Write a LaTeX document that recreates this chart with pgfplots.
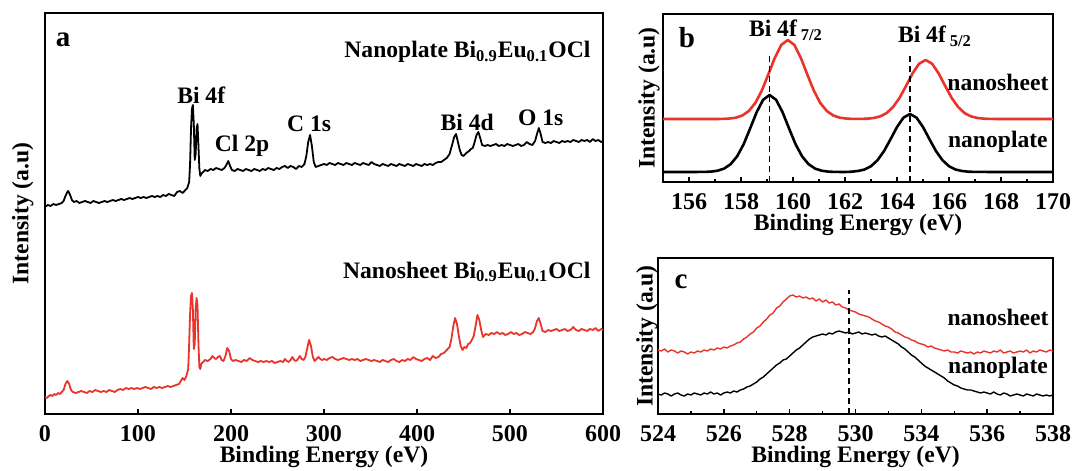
\documentclass[border=0pt]{standalone}
\usepackage{fontspec}
\setmainfont{Liberation Serif}
\usepackage{pgfplots}
\pgfplotsset{compat=1.18}
\definecolor{xpsred}{RGB}{232,52,42}
\newcommand{\lbl}{\fontsize{11.8}{13.5}\selectfont\bfseries}
\newcommand{\tck}{\fontsize{12}{14}\selectfont\bfseries}
\newcommand{\letter}{\fontsize{14.5}{16}\selectfont\bfseries}

\pgfplotsset{
  xps/.style={
    scale only axis, clip=false,
    axis line style={line width=0.9pt},
    ytick=\empty, ymin=0,
    tick align=inside, xtick pos=left,
    major tick length=2.6pt, minor tick length=1.5pt,
    every tick/.style={black, line width=0.7pt},
    tick label style={font=\tck},
    label style={font=\lbl},
    /pgf/number format/assume math mode=true,
    xticklabel style={anchor=base, yshift=-13.5pt},
    xlabel style={at={(axis description cs:0.5,0)}, anchor=base, yshift=-24pt},
    xlabel={Binding Energy (eV)},
    ylabel={Intensity (a.u)},
  },
}

\begin{document}
\begin{tikzpicture}
\useasboundingbox (0pt,0pt) rectangle (536pt,-235.5pt);

% ---------------- panel a: survey ----------------
\begin{axis}[xps,
  at={(22.5pt,-207pt)}, anchor=south west,
  width=279pt, height=200.5pt,
  xmin=0, xmax=600, ymax=401,
  xtick={0,100,...,600},
  ylabel style={at={(axis description cs:-0.040,0.5)}, anchor=center},
]
\addplot[black, line width=0.9pt, line join=round] table {
x y
0 207
3 209
6 208
9 210
12 209
15 210
18 211
20 213
22 218
24 222
25 223
27 219
29 214
31 212
34 213
37 211
40 212
43 213
46 212
49 211
52 213
55 212
58 211
61 212
64 213
67 212
70 213
73 214
76 213
79 214
82 215
85 214
88 215
91 216
94 215
97 216
100 217
103 216
106 217
109 216
112 217
115 218
118 217
121 218
124 217
127 219
130 218
133 220
136 219
139 218
142 222
145 223
148 221
151 224
153 226
155 232
156 250
157 285
158 305
159 309
160 290
161 254
162 260
163 285
164 290
165 268
166 245
167 238
168 240
170 242
172 244
175 243
178 245
181 244
184 246
187 245
190 244
193 246
195 249
197 253
199 248
201 244
204 243
207 245
210 244
213 243
216 245
219 244
222 243
225 245
228 244
231 243
234 245
237 244
240 246
243 245
246 244
249 246
252 245
255 247
258 248
261 246
264 248
267 247
270 245
273 248
276 247
279 250
281 258
283 272
285 279
287 268
289 252
291 247
294 248
297 249
300 250
303 249
306 251
309 250
312 249
315 251
318 250
321 249
324 251
327 250
330 249
333 251
336 250
339 249
342 251
345 250
348 249
351 252
354 250
357 249
360 248
363 250
366 249
369 248
372 250
375 249
378 248
381 250
384 249
387 248
390 250
393 249
396 248
399 250
402 249
405 248
408 250
411 249
414 250
417 249
420 251
423 252
426 252
429 254
432 256
435 260
438 270
440 277
442 280
444 272
446 264
448 259
450 258
453 261
456 263
458 265
460 266
462 272
464 279
466 282
468 276
470 269
473 268
476 269
479 268
482 269
485 270
488 268
491 269
494 268
497 270
500 269
503 268
506 269
509 270
512 268
515 269
518 272
521 270
524 269
527 273
529 280
531 286
533 280
535 272
538 271
541 272
544 271
547 273
550 272
553 271
556 273
559 272
562 273
565 272
568 274
571 273
574 272
577 274
580 273
583 274
586 272
589 275
592 273
595 274
598 272
600 273
};
\addplot[xpsred, line width=0.9pt, line join=round] table {
x y
0 17
2 16
4 18
6 19
8 18
10 20
12 19
14 21
16 20
18 22
20 24
22 30
24 33
26 30
28 24
30 22
33 21
36 22
39 23
42 22
45 21
48 23
51 22
54 24
57 23
60 22
63 23
66 22
69 24
72 23
75 22
78 24
81 25
84 24
87 26
90 25
93 26
96 25
99 26
102 25
105 26
108 27
111 26
114 25
117 27
120 26
123 27
126 26
129 27
132 28
135 27
138 28
141 29
144 30
146 33
148 36
150 34
152 38
154 45
155 70
156 100
157 118
158 121
159 105
160 65
161 70
162 105
163 116
164 108
165 70
166 47
167 45
168 50
170 52
172 54
175 53
178 55
180 58
182 56
184 55
186 57
188 58
190 54
192 53
194 58
196 66
198 63
200 55
202 53
205 54
208 53
211 52
214 54
217 53
220 56
223 54
226 53
229 52
232 53
235 52
238 53
241 52
244 53
247 51
250 52
253 53
256 52
258 55
260 53
262 52
264 54
266 57
268 54
270 53
272 55
274 58
276 55
278 54
280 57
282 66
284 74
286 68
288 57
290 53
292 55
294 57
296 55
298 54
300 55
303 54
306 56
309 57
312 55
315 54
318 55
321 56
324 55
327 54
330 55
333 54
336 55
339 53
342 54
345 55
348 54
351 53
354 54
357 53
360 52
363 54
366 53
369 52
372 54
375 55
378 53
381 52
384 54
387 53
390 55
393 54
396 57
399 55
402 54
405 53
408 55
411 56
414 54
417 58
420 56
423 57
426 60
429 61
432 64
435 67
437 75
439 88
441 96
443 90
445 78
447 68
449 64
451 67
453 66
455 70
457 71
459 74
461 78
463 88
465 99
467 94
469 84
471 77
474 80
477 79
480 81
483 80
486 82
489 80
492 81
495 79
498 80
501 82
504 80
507 81
510 79
513 80
516 82
519 81
522 80
525 82
527 86
529 93
531 96
533 90
535 83
538 82
541 84
544 83
547 84
550 85
553 83
556 84
559 85
562 83
565 84
568 87
571 84
574 83
577 85
580 84
583 83
586 85
589 84
592 86
595 83
598 85
600 84
};
\node[font=\letter] at (axis cs:19.4,374) {a};
\node[font=\lbl, anchor=east] at (axis cs:594,362) {Nanoplate Bi\textsubscript{0.9}Eu\textsubscript{0.1}OCl};
\node[font=\lbl, anchor=east] at (axis cs:594,142) {Nanosheet Bi\textsubscript{0.9}Eu\textsubscript{0.1}OCl};
\node[font=\lbl] at (axis cs:168,319) {Bi 4f};
\node[font=\lbl] at (axis cs:212,268) {Cl 2p};
\node[font=\lbl] at (axis cs:284,290) {C 1s};
\node[font=\lbl] at (axis cs:454,292) {Bi 4d};
\node[font=\lbl] at (axis cs:533,296) {O 1s};
\end{axis}

% ---------------- panel b: Bi 4f ----------------
\begin{axis}[xps,
  at={(331.5pt,-91pt)}, anchor=south west,
  width=195pt, height=84pt,
  xmin=155, xmax=170, ymax=168,
  xtick={156,158,...,170}, minor xtick={157,159,...,169},
  ylabel style={at={(axis description cs:-0.036,0.5)}, anchor=center},
]
\addplot[black, line width=1.3pt, line join=round] table {
x y
155 10
156 10
156.6 10.1
156.85 10.4
157.1 11.3
157.35 13.4
157.6 17.8
157.85 25.6
158.1 37.7
158.35 53.4
158.6 69.7
158.85 82.2
159.1 87
159.35 82.2
159.6 69.7
159.85 53.4
160.1 37.7
160.35 25.6
160.6 17.8
160.85 13.4
161.1 11.3
161.35 10.4
161.6 10.1
162 10
162.25 10.3
162.5 11.0
162.75 12.5
163.0 15.8
163.25 21.8
163.5 30.9
163.75 42.7
164.0 55.0
164.25 64.4
164.5 68
164.75 64.4
165.0 55.0
165.25 42.7
165.5 30.9
165.75 21.8
166.0 15.8
166.25 12.5
166.5 11.0
166.75 10.3
167 10.1
168 10
170 10
};
\addplot[xpsred, line width=1.3pt, line join=round] table {
x y
155 63
157 63
157.3 63.1
157.55 63.45
157.8 64.3
158.05 66.5
158.3 71.0
158.55 79.0
158.8 91.4
159.05 107.5
159.3 124.2
159.55 137.1
159.8 142
160.05 137.1
160.3 124.2
160.55 107.5
160.8 91.4
161.05 79.0
161.3 71.0
161.55 66.5
161.8 64.3
162.05 63.45
162.3 63.1
162.6 63.1
162.85 63.3
163.1 64.0
163.35 65.6
163.6 68.9
163.85 75.0
164.1 84.2
164.35 96.2
164.6 108.7
164.85 118.3
165.1 122
165.35 118.3
165.6 108.7
165.85 96.2
166.1 84.2
166.35 75.0
166.6 68.9
166.85 65.6
167.1 64.0
167.35 63.3
167.6 63.1
168 63
170 63
};
\addplot[black, densely dashed, line width=0.6pt] coordinates {(159.1,0) (159.1,129)};
\addplot[black, densely dashed, line width=0.6pt] coordinates {(164.5,0) (164.5,127)};
\node[font=\letter] at (axis cs:155.92,144) {b};
\node[font=\lbl] at (axis cs:159.73,152) {Bi 4f\,\textsubscript{7/2}};
\node[font=\lbl] at (axis cs:165.46,146) {Bi 4f\,\textsubscript{5/2}};
\node[font=\lbl] at (axis cs:167.88,100) {nanosheet};
\node[font=\lbl] at (axis cs:167.88,40) {nanoplate};
\end{axis}

% ---------------- panel c: O 1s ----------------
\begin{axis}[xps,
  at={(329pt,-207pt)}, anchor=south west,
  width=197.5pt, height=78pt,
  xmin=524, xmax=536, ymax=156,
  xtick={524,526,...,536}, xticklabels={524,526,528,530,534,536,538},
  minor xtick={525,527,...,535},
  ylabel style={at={(axis description cs:-0.028,0.5)}, anchor=center},
]
\addplot[xpsred, line width=0.7pt, line join=round] table {
x y
524.0 64
524.1 63
524.2 65
524.3 62
524.4 64
524.5 63
524.6 61
524.7 63
524.8 62
524.9 60
525.0 62
525.1 61
525.2 63
525.3 62
525.4 64
525.5 63
525.6 65
525.7 64
525.8 66
525.9 65
526.0 67
526.1 66
526.2 68
526.3 69
526.4 71
526.5 72
526.6 75
526.7 77
526.8 80
526.9 82
527.0 86
527.1 88
527.2 92
527.3 95
527.4 99
527.5 101
527.6 106
527.7 108
527.8 112
527.9 115
528.0 118
528.1 119
528.2 117
528.3 118
528.4 116
528.5 117
528.6 115
528.7 116
528.8 113
528.9 115
529.0 112
529.1 114
529.2 111
529.3 112
529.4 109
529.5 110
529.6 107
529.7 106
529.8 104
529.9 103
530.0 102
530.1 100
530.2 99
530.3 98
530.4 97
530.5 95
530.6 93
530.7 92
530.8 90
530.9 88
531.0 87
531.1 85
531.2 82
531.3 81
531.4 79
531.5 77
531.6 76
531.7 74
531.8 73
531.9 71
532.0 70
532.1 69
532.2 67
532.3 68
532.4 66
532.5 65
532.6 64
532.7 63
532.8 64
532.9 62
533.0 62
533.1 61
533.2 63
533.3 62
533.4 61
533.5 62
533.6 60
533.7 62
533.8 61
533.9 63
534.0 62
534.1 61
534.2 63
534.3 62
534.4 64
534.5 61
534.6 62
534.7 63
534.8 61
534.9 62
535.0 63
535.1 62
535.2 64
535.3 61
535.4 63
535.5 62
535.6 64
535.7 63
535.8 62
535.9 64
536.0 63
};
\addplot[black, line width=0.7pt, line join=round] table {
x y
524.0 20
524.1 19
524.2 21
524.3 20
524.4 18
524.5 20
524.6 21
524.7 19
524.8 18
524.9 20
525.0 19
525.1 21
525.2 20
525.3 19
525.4 21
525.5 20
525.6 22
525.7 20
525.8 21
525.9 19
526.0 21
526.1 22
526.2 21
526.3 23
526.4 22
526.5 24
526.6 25
526.7 27
526.8 28
526.9 30
527.0 32
527.1 35
527.2 37
527.3 40
527.4 43
527.5 46
527.6 49
527.7 51
527.8 54
527.9 55
528.0 58
528.1 61
528.2 64
528.3 66
528.4 69
528.5 72
528.6 75
528.7 77
528.8 78
528.9 79
529.0 80
529.1 79
529.2 81
529.3 80
529.4 82
529.5 83
529.6 82
529.7 81
529.8 82
529.9 80
530.0 81
530.1 82
530.2 80
530.3 81
530.4 80
530.5 79
530.6 80
530.7 78
530.8 77
530.9 78
531.0 76
531.1 74
531.2 72
531.3 70
531.4 67
531.5 65
531.6 62
531.7 59
531.8 57
531.9 54
532.0 51
532.1 48
532.2 46
532.3 44
532.4 42
532.5 40
532.6 38
532.7 36
532.8 33
532.9 31
533.0 29
533.1 28
533.2 26
533.3 25
533.4 24
533.5 24
533.6 23
533.7 22
533.8 21
533.9 22
534.0 21
534.1 20
534.2 22
534.3 20
534.4 19
534.5 21
534.6 20
534.7 18
534.8 19
534.9 20
535.0 19
535.1 18
535.2 20
535.3 19
535.4 18
535.5 20
535.6 19
535.7 18
535.8 19
535.9 18
536.0 19
};
\addplot[black, densely dashed, line width=0.6pt] coordinates {(529.8,0) (529.8,124)};
\node[font=\letter] at (axis cs:524.7,132) {c};
\node[font=\lbl] at (axis cs:534.33,97) {nanosheet};
\node[font=\lbl] at (axis cs:534.33,46) {nanoplate};
\end{axis}
\end{tikzpicture}
\end{document}
